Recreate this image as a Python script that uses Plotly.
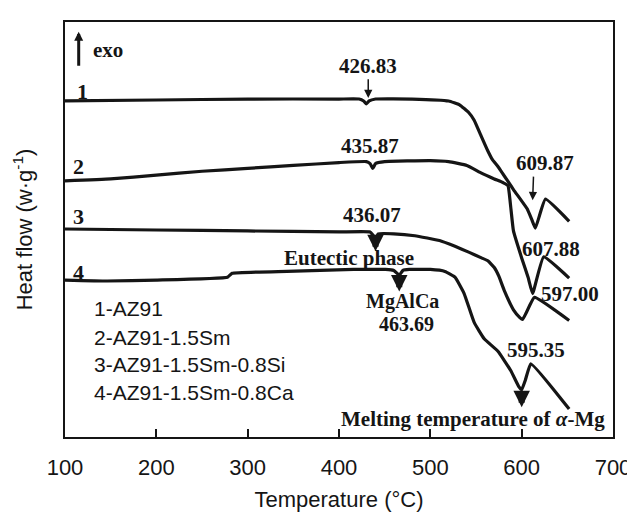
import plotly.graph_objects as go

# ---- data (temperature in °C, heat flow in arbitrary units) ----
t1 = [100, 200, 300, 400, 422, 427, 430, 433, 440, 480, 520, 532, 542, 548, 555, 563, 568, 574, 591, 606, 611, 615, 626, 652]
h1 = [349, 350, 351, 351, 351, 349, 346, 349, 351, 351, 349, 345, 337, 329, 314, 297, 288, 281, 257, 237, 226, 217, 247, 224]

t2 = [100, 150, 200, 250, 300, 350, 400, 430, 434, 437, 440, 450, 500, 520, 540, 556, 570, 580, 585, 588, 591, 600, 607, 612, 624, 652]
h2 = [266, 268, 272, 276, 279, 282, 285, 286, 284, 279, 284, 286, 287, 286, 282, 274, 268, 264, 261, 239, 214, 186, 166, 149, 187, 165]

t3 = [100, 200, 300, 400, 434, 437, 440, 443, 460, 483, 510, 527, 542, 556, 563, 570, 575, 581, 591, 598, 601, 605, 614, 652]
h3 = [216, 215, 214, 213, 213, 210, 206, 211, 211, 209, 204, 198, 192, 186, 183, 176, 167, 152, 132, 124, 122, 129, 145, 121]

t4 = [100, 146, 200, 278, 283, 343, 416, 451, 460, 466, 470, 477, 500, 516, 527, 537, 548, 559, 574, 588, 597, 600, 604, 610, 652]
h4 = [163, 162, 163, 166, 170, 172, 174, 174, 173, 168, 173, 174, 174, 172, 166, 149, 119, 102, 89, 69, 52, 49, 59, 76, 29]

curve_names = ["1", "2", "3", "4"]
legend_lines = ["1-AZ91", "2-AZ91-1.5Sm", "3-AZ91-1.5Sm-0.8Si", "4-AZ91-1.5Sm-0.8Ca"]
x_ticks = [100, 200, 300, 400, 500, 600, 700]

INK = "#151515"
SERIF = "Liberation Serif, Times New Roman, serif"
SANS = "Liberation Sans, Arial, sans-serif"

fig = go.Figure()
for t, h in [(t1, h1), (t2, h2), (t3, h3), (t4, h4)]:
    fig.add_trace(go.Scatter(x=t, y=h, mode="lines",
                             line=dict(color=INK, width=3.2, shape="spline", smoothing=0.35),
                             showlegend=False, hoverinfo="skip"))

ann = []

def txt(x, y, s, size=21, xanchor="center", font=SERIF, bold=True):
    ann.append(dict(x=x, y=y, xref="x", yref="y", text=("<b>%s</b>" % s) if bold else s,
                    showarrow=False, xanchor=xanchor, yanchor="middle",
                    font=dict(family=font, size=size, color=INK)))

def arrow(x, y, ax, ay, width=1.5, size=1.0, head=2):
    ann.append(dict(x=x, y=y, ax=ax, ay=ay, xref="x", yref="y", axref="x", ayref="y",
                    text="", showarrow=True, arrowhead=head, arrowsize=size,
                    arrowwidth=width, arrowcolor=INK, standoff=0, startstandoff=0))

# curve numbers
for nm, (x, y) in zip(curve_names, [(119, 359), (115, 281), (115, 229), (115, 171)]):
    txt(x, y, nm, size=22)

# exo indicator
arrow(115, 421, 115, 384, width=3, size=0.6)
txt(128, 402, "exo", size=21, xanchor="left")

# peak labels
txt(432, 385, "426.83")
arrow(432, 352, 432, 373, width=1.5, size=1.1)
txt(434, 302, "435.87")
txt(436, 231, "436.07")
arrow(440, 193, 440, 207, width=6, size=0.55)
txt(411, 186, "Eutectic phase")
arrow(466, 151, 466, 168, width=6, size=0.55)
txt(469, 141, "MgAlCa", size=20)
txt(474, 117, "463.69", size=20)
txt(626, 285, "609.87")
arrow(612, 246, 613, 272, width=1.5, size=1.1)
txt(632, 195, "607.88")
txt(653, 149, "597.00")
txt(616, 90, "595.35")
arrow(600, 31, 600, 49, width=6, size=0.55)
txt(693, 19, "Melting temperature of <i>α</i>-Mg", xanchor="right")

# composition list
for s, y in zip(legend_lines, [133, 103, 75, 46]):
    txt(130, y, s, size=21, xanchor="left", font=SANS, bold=False)

fig.update_layout(
    width=635, height=512,
    margin=dict(l=57, r=21, t=13, b=68),
    paper_bgcolor="white", plot_bgcolor="white",
    annotations=ann,
    xaxis=dict(range=[100, 700], tickvals=x_ticks, ticks="inside", ticklen=8, tickwidth=2,
               tickcolor=INK, showline=True, linewidth=2, linecolor=INK, mirror=True,
               showgrid=False, zeroline=False, ticklabelstandoff=10,
               tickfont=dict(family=SANS, size=22, color=INK),
               title=dict(text="Temperature (°C)", font=dict(family=SANS, size=22, color=INK), standoff=12)),
    yaxis=dict(range=[0, 431], showline=True, linewidth=2, linecolor=INK, mirror=True,
               showticklabels=False, ticks="", showgrid=False, zeroline=False,
               title=dict(text="Heat flow (w·g<sup>-1</sup>)", font=dict(family=SANS, size=22, color=INK), standoff=24)),
)

fig.write_html("out.html")
